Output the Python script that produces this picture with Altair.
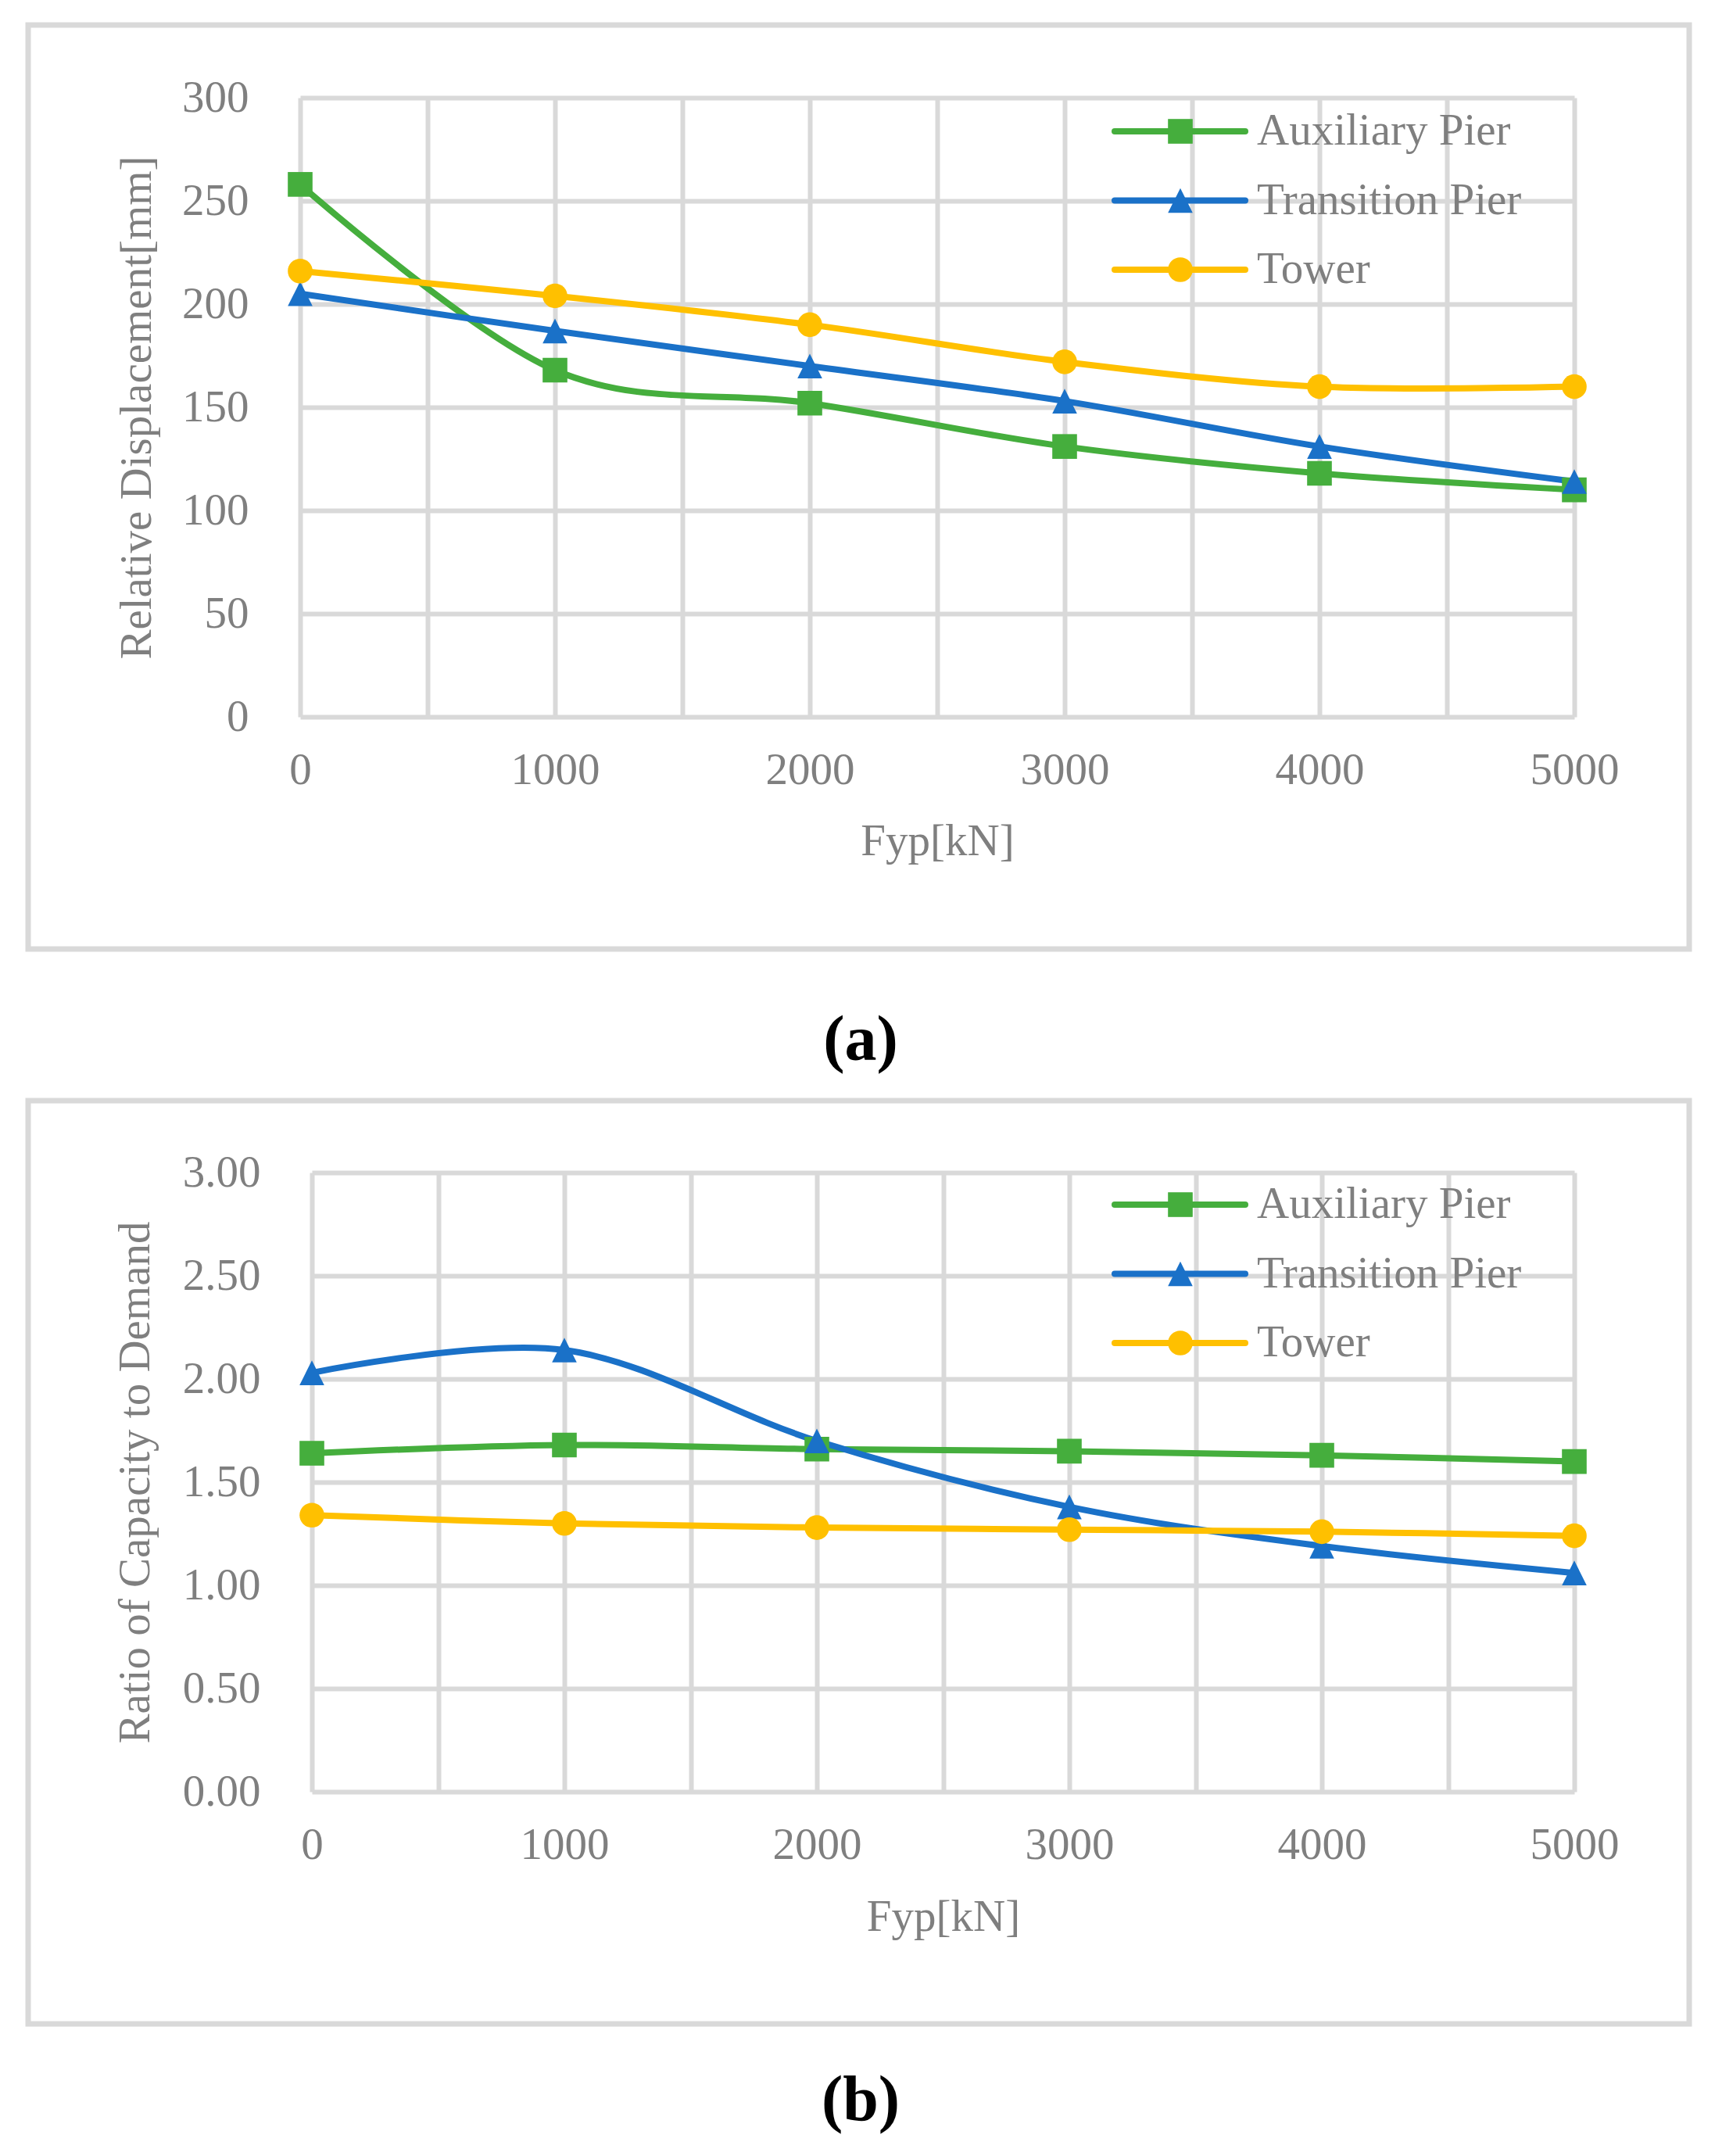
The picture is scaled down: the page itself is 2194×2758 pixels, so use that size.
import altair as alt
import pandas as pd

# ---------------- data ----------------
FYP = [0, 1000, 2000, 3000, 4000, 5000]
SERIES = ["Auxiliary Pier", "Transition Pier", "Tower"]

DISP_AUX = [258, 168, 152, 131, 118, 110]
DISP_TRANS = [205, 187, 170, 153, 131, 114]
DISP_TOWER = [216, 204, 190, 172, 160, 160]

RATIO_AUX = [1.64, 1.68, 1.66, 1.65, 1.63, 1.60]
RATIO_TRANS = [2.03, 2.14, 1.70, 1.38, 1.19, 1.06]
RATIO_TOWER = [1.34, 1.30, 1.28, 1.27, 1.26, 1.24]

X_TICKS = [0, 500, 1000, 1500, 2000, 2500, 3000, 3500, 4000, 4500, 5000]
Y_TICKS_A = [0, 50, 100, 150, 200, 250, 300]
Y_TICKS_B = [0.0, 0.5, 1.0, 1.5, 2.0, 2.5, 3.0]
PANEL_LABELS = ["(a)", "(b)"]
X_TITLE = "Fyp[kN]"
Y_TITLES = ["Relative Displacement[mm]", "Ratio of Capacity to Demand"]

# ---------------- style ----------------
COLORS = ["#45AE3D", "#1A71C8", "#FFC000"]
SHAPES = ["square", "M0,-1L1,1L-1,1Z", "circle"]
FONT = "Liberation Serif"
TXT = "#7F7F7F"
GRID = "#D9D9D9"
FS = 57
W = 1630
H = 792


def long_df(cols):
    rows = []
    for s, vals in zip(SERIES, cols):
        for xv, v in zip(FYP, vals):
            rows.append({"Fyp": xv, "series": s, "value": v})
    return pd.DataFrame(rows)


def panel(df, ymax, yticks, yfmt, ytitle, x_start, lab_pad_y, title_x,
          x_title_y, legend_rows, label, label_y, frame_y):
    color = alt.Color("series:N", scale=alt.Scale(domain=SERIES, range=COLORS), legend=None)
    shape = alt.Shape("series:N", scale=alt.Scale(domain=SERIES, range=SHAPES), legend=None)

    x = alt.X(
        "Fyp:Q",
        scale=alt.Scale(domain=[0, 5000], range=[x_start, W], nice=False, zero=False),
        axis=alt.Axis(
            values=X_TICKS, format="d",
            labelExpr="datum.value % 1000 == 0 ? datum.label : ''",
            grid=True, gridColor=GRID, gridWidth=6,
            domain=False, ticks=False, tickSize=0,
            labelPadding=40, labelFont=FONT, labelFontSize=FS, labelColor=TXT,
            labelFlush=False, labelOverlap=False,
            title=X_TITLE, titleFont=FONT, titleFontSize=FS, titleFontWeight="normal",
            titleColor=TXT, titleY=x_title_y, titleBaseline="middle",
        ),
    )
    y = alt.Y(
        "value:Q",
        scale=alt.Scale(domain=[0, ymax], nice=False, zero=True),
        axis=alt.Axis(
            values=yticks, format=yfmt,
            grid=True, gridColor=GRID, gridWidth=6,
            domain=False, ticks=False, tickSize=0,
            labelPadding=lab_pad_y, labelFont=FONT, labelFontSize=FS, labelColor=TXT,
            labelOverlap=False, labelFlush=False,
            title=ytitle, titleFont=FONT, titleFontSize=FS, titleFontWeight="normal",
            titleColor=TXT, titleX=title_x, titleY=H / 2, titleBaseline="middle",
            titleAlign="center", titleAngle=270,
        ),
    )

    lines = alt.Chart(df).mark_line(
        interpolate="cardinal", strokeWidth=8, strokeCap="round", strokeJoin="round"
    ).encode(x=x, y=y, color=color, detail="series:N")
    pts = alt.Chart(df).mark_point(filled=True, opacity=1, size=1000).encode(
        x=x, y=y, color=color, shape=shape
    )
    data_layer = alt.layer(lines, pts)

    leg_df = pd.DataFrame({"series": SERIES, "row": [0, 1, 2]})
    ly = alt.Y("row:Q", scale=alt.Scale(domain=[0, 2], range=legend_rows, nice=False, zero=False), axis=None)
    leg_rule = alt.Chart(leg_df).mark_rule(strokeWidth=8, strokeCap="round").encode(
        x=alt.value(1042), x2=alt.value(1209), y=ly, color=color
    )
    leg_pt = alt.Chart(leg_df).mark_point(filled=True, opacity=1, size=1000).encode(
        x=alt.value(1126), y=ly, color=color, shape=shape
    )
    leg_txt = alt.Chart(leg_df).mark_text(
        align="left", baseline="middle", font=FONT, fontSize=FS, color=TXT
    ).encode(x=alt.value(1224), y=ly, text="series:N")
    legend_layer = alt.layer(leg_rule, leg_pt, leg_txt)

    one = pd.DataFrame({"k": [0]})
    frame = alt.Chart(one).mark_rect(
        fill="white", fillOpacity=0, stroke=GRID, strokeWidth=7
    ).encode(
        x=alt.value(-348), x2=alt.value(1777),
        y=alt.value(frame_y[0]), y2=alt.value(frame_y[1]),
    )
    lab = alt.Chart(pd.DataFrame({"label": [label]})).mark_text(
        font=FONT, fontSize=82, fontWeight="bold", color="black",
        align="center", baseline="middle",
    ).encode(x=alt.value(717), y=alt.value(label_y), text="label:N")

    return alt.layer(frame, data_layer, legend_layer, lab).resolve_scale(
        y="independent"
    ).properties(width=W, height=H)


dfa = long_df([DISP_AUX, DISP_TRANS, DISP_TOWER])
dfb = long_df([RATIO_AUX, RATIO_TRANS, RATIO_TOWER])

pa = panel(dfa, 300, Y_TICKS_A, "d", Y_TITLES[0], 0, 66, -209, 159,
           [43, 220], PANEL_LABELS[0], 1206, [-93, 1089])
pb = panel(dfb, 3, Y_TICKS_B, ".2f", Y_TITLES[1], 15, 51, -211, 160,
           [41, 218], PANEL_LABELS[1], 1187, [-92, 1089])

chart = alt.vconcat(pa, pb, spacing=583, bounds="flush").properties(
    padding={"left": 24, "top": 20, "right": 10, "bottom": 10},
    background="white",
).configure_view(stroke="transparent")

chart.save("out.html", embed_options={"renderer": "svg", "actions": False})
